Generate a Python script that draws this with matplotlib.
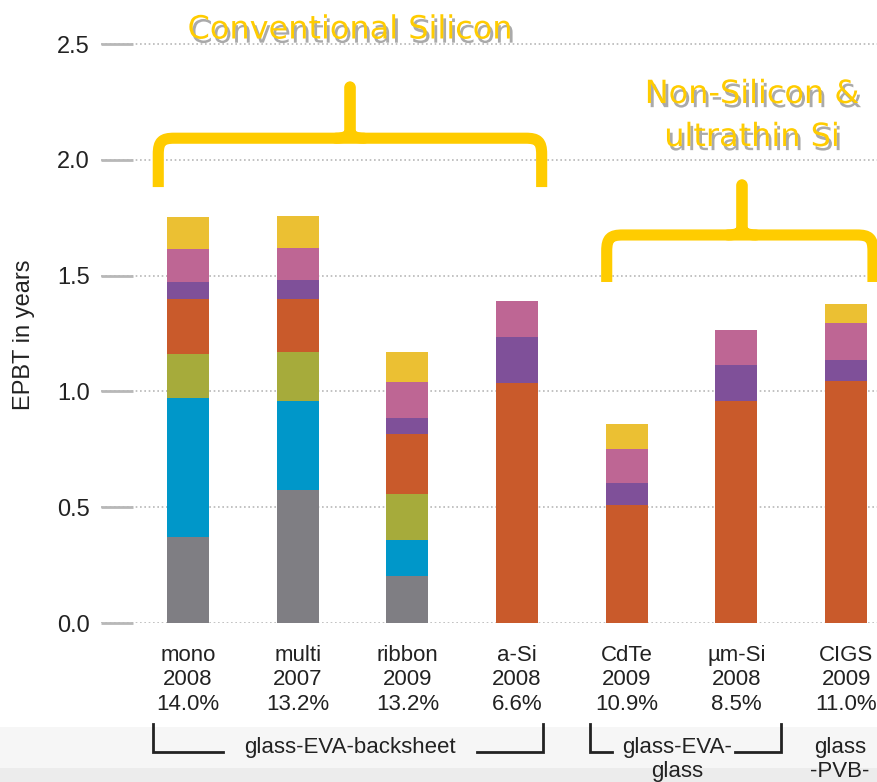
import numpy as np
import matplotlib
matplotlib.use("Agg")
from matplotlib import pyplot as plt
from matplotlib.path import Path
from matplotlib.patches import PathPatch, Rectangle
from matplotlib.lines import Line2D
import matplotlib.patheffects as pe

technologies = ["mono", "multi", "ribbon", "a-Si", "CdTe", "\u00b5m-Si", "CIGS"]
years = ["2008", "2007", "2009", "2008", "2009", "2008", "2009"]
efficiencies = ["14.0%", "13.2%", "13.2%", "6.6%", "10.9%", "8.5%", "11.0%"]

# EPBT contribution of each part, in years (bottom to top of the stack)
part_gray = [0.373, 0.575, 0.204, 0.0, 0.0, 0.0, 0.0]
part_blue = [0.600, 0.383, 0.155, 0.0, 0.0, 0.0, 0.0]
part_green = [0.188, 0.213, 0.198, 0.0, 0.0, 0.0, 0.0]
part_orange = [0.239, 0.229, 0.259, 1.035, 0.511, 0.959, 1.045]
part_purple = [0.073, 0.083, 0.068, 0.199, 0.094, 0.155, 0.092]
part_pink = [0.142, 0.138, 0.157, 0.157, 0.148, 0.150, 0.159]
part_yellow = [0.139, 0.137, 0.128, 0.0, 0.105, 0.0, 0.081]

parts = [part_gray, part_blue, part_green, part_orange, part_purple, part_pink, part_yellow]
colors = ["#7f7e83", "#0097c9", "#a6ab3b", "#c95a2b", "#7f5099", "#be6694", "#ebc033"]

YELLOW = "#ffcc00"
W, H = 878, 782


def fx(px):
    return px / W


def fy(py):
    return 1 - py / H


fig = plt.figure(figsize=(8.78, 7.82), dpi=100)
fig.patches.append(Rectangle((0, fy(782)), 1, fy(768) - fy(782), transform=fig.transFigure,
                             facecolor="#ececec", edgecolor="none", zorder=0))
fig.patches.append(Rectangle((0, fy(768)), 1, fy(727) - fy(768), transform=fig.transFigure,
                             facecolor="#f6f6f6", edgecolor="none", zorder=0))

ax = fig.add_axes([fx(101), fy(623), fx(777), 623 / H])
ax.patch.set_visible(False)

x = np.arange(len(technologies))
bottom = np.zeros(len(technologies))
for vals, c in zip(parts, colors):
    vals = np.array(vals)
    ax.bar(x, vals, width=0.383, bottom=bottom, color=c, linewidth=0, zorder=3)
    bottom += vals

ax.set_xlim(-0.793, 6.29)
ax.set_ylim(0, 2.691)
for s in ax.spines.values():
    s.set_visible(False)

ax.set_yticks(np.arange(0, 2.6, 0.5))
ax.set_yticklabels(["%.1f" % v for v in np.arange(0, 2.6, 0.5)])
ax.tick_params(axis="y", direction="in", length=23, width=2, color="#b8b8b8", pad=8,
               labelsize=17, labelcolor="#222222")
ax.yaxis.grid(True, linestyle=(0, (1, 1.6)), color="#b8b8b8", linewidth=1.2, zorder=1)
ax.set_axisbelow(True)

labels = [t + "\n" + y + "\n" + e for t, y, e in zip(technologies, years, efficiencies)]
ax.set_xticks(x)
ax.set_xticklabels(labels)
ax.tick_params(axis="x", length=0, pad=16, labelsize=16, labelcolor="#222222")
for lbl in ax.get_xticklabels():
    lbl.set_family("Liberation Sans")
    lbl.set_linespacing(1.2)
for lbl in ax.get_yticklabels():
    lbl.set_family("Liberation Sans")

fig.text(fx(24), fy(335), "EPBT in years", rotation=90, ha="center", va="center",
         fontsize=17, family="Liberation Sans", color="#222222")


def brace(x0, x1, xm, yb, yh, yt):
    sx = (6.29 + 0.793) / 777
    sy = 2.691 / 623
    r = 16
    verts = [(x0, yb), (x0, yh - r * sy),
             (x0, yh - 3 * sy), (x0 + 4 * sx, yh), (x0 + r * sx, yh),
             (x1 - r * sx, yh),
             (x1 - 4 * sx, yh), (x1, yh - 3 * sy), (x1, yh - r * sy),
             (x1, yb)]
    codes = [Path.MOVETO, Path.LINETO,
             Path.CURVE4, Path.CURVE4, Path.CURVE4,
             Path.LINETO,
             Path.CURVE4, Path.CURVE4, Path.CURVE4,
             Path.LINETO]
    ax.add_patch(PathPatch(Path(verts, codes), facecolor="none", edgecolor=YELLOW,
                           linewidth=8, capstyle="butt", joinstyle="round",
                           clip_on=False, zorder=5))
    for side in (-1, 1):
        sv = [(xm + side * 14 * sx, yh), (xm + side * 2 * sx, yh), (xm, yh + 6 * sy),
              (xm, yh + 22 * sy), (xm, yt)]
        sc = [Path.MOVETO, Path.CURVE3, Path.CURVE3, Path.LINETO, Path.LINETO]
        ax.add_patch(PathPatch(Path(sv, sc), facecolor="none", edgecolor=YELLOW,
                               linewidth=8, capstyle="round", joinstyle="round",
                               clip_on=False, zorder=5))


brace(-0.271, 3.224, 1.477, 1.883, 2.094, 2.315)
brace(3.817, 6.244, 5.050, 1.473, 1.676, 1.892)

shadow = [pe.SimplePatchShadow(offset=(2, -3), shadow_rgbFace="#444444", alpha=0.45), pe.Normal()]
fig.text(fx(350), fy(30), "Conventional Silicon", ha="center", va="center", fontsize=23,
         family="DejaVu Sans", color=YELLOW, path_effects=shadow)
fig.text(fx(752), fy(116), "Non-Silicon &\nultrathin Si", ha="center", va="center", fontsize=23,
         family="DejaVu Sans", color=YELLOW, linespacing=1.5, path_effects=shadow)

# material groups below the labels
lc = "#222222"
for seg in [[(153, 724), (153, 751.5), (223, 751.5)],
            [(477, 751.5), (543, 751.5), (543, 724)],
            [(590, 724), (590, 751.5), (612, 751.5)],
            [(735, 751.5), (781, 751.5), (781, 724)]]:
    xs = [fx(p[0]) for p in seg]
    ys = [fy(p[1]) for p in seg]
    fig.lines.append(Line2D(xs, ys, color=lc, linewidth=2, transform=fig.transFigure,
                            solid_joinstyle="miter"))

fig.text(fx(350), fy(748), "glass-EVA-backsheet", ha="center", va="center", fontsize=16,
         family="Liberation Sans", color=lc)
fig.text(fx(677), fy(737), "glass-EVA-\nglass", ha="center", va="top", fontsize=16,
         family="Liberation Sans", color=lc, linespacing=1.2)
fig.text(fx(840), fy(737), "glass\n-PVB-", ha="center", va="top", fontsize=16,
         family="Liberation Sans", color=lc, linespacing=1.2)

fig.savefig("out.png", dpi=100)
